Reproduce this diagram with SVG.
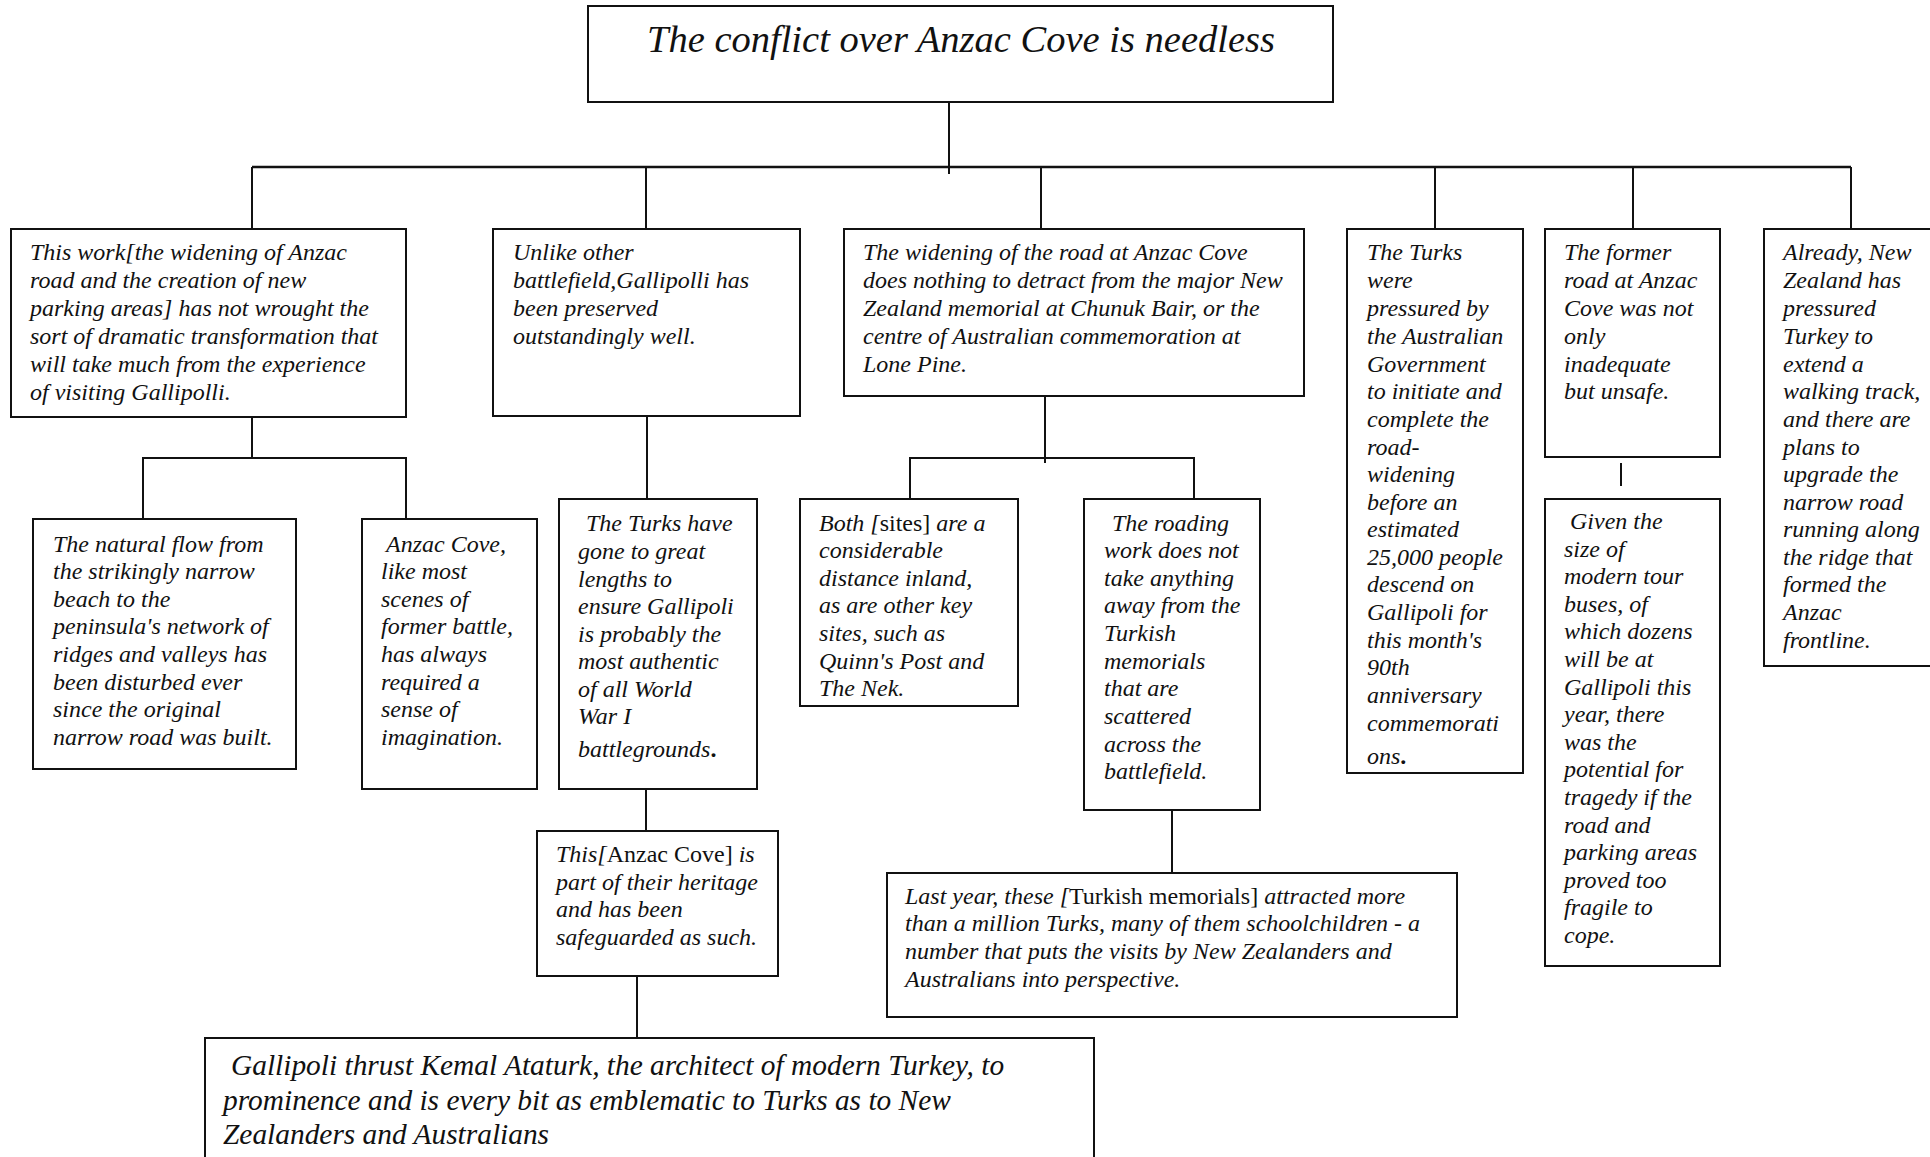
<svg xmlns="http://www.w3.org/2000/svg" width="1930" height="1157" viewBox="0 0 1930 1157">
  <style>
    .box { fill: #ffffff; stroke: #111111; stroke-width: 2; }
    .link { stroke: #111111; stroke-width: 2; fill: none; }
    .bus { stroke: #111111; stroke-width: 2.5; fill: none; }
    .t { font-family: "Liberation Serif", "Times New Roman", serif; font-style: italic; font-size: 24px; fill: #111111; }
    .title { font-size: 38.5px; }
    .big { font-size: 29.4px; }
    .u { font-style: normal; }
  </style>
  <rect width="1930" height="1157" fill="#ffffff"/>

  <!-- connectors -->
  <g id="connectors">
    <line class="link" x1="949" y1="102" x2="949" y2="174"/>
    <line class="bus" x1="252" y1="167" x2="1851" y2="167"/>
    <line class="link" x1="252" y1="167" x2="252" y2="229"/>
    <line class="link" x1="646" y1="167" x2="646" y2="229"/>
    <line class="link" x1="1041" y1="167" x2="1041" y2="229"/>
    <line class="link" x1="1435" y1="167" x2="1435" y2="229"/>
    <line class="link" x1="1633" y1="167" x2="1633" y2="229"/>
    <line class="link" x1="1851" y1="167" x2="1851" y2="229"/>
    <!-- under "This work" -->
    <polyline class="link" points="252,417 252,458"/>
    <polyline class="link" points="143,519 143,458 406,458 406,519"/>
    <!-- under "Unlike other" -->
    <line class="link" x1="647" y1="416" x2="647" y2="499"/>
    <!-- under "The widening" -->
    <line class="link" x1="1045" y1="390" x2="1045" y2="463"/>
    <polyline class="link" points="910,499 910,458 1194,458 1194,499"/>
    <!-- lower chains -->
    <line class="link" x1="646" y1="789" x2="646" y2="831"/>
    <line class="link" x1="637" y1="966" x2="637" y2="1038"/>
    <line class="link" x1="1172" y1="810" x2="1172" y2="873"/>
    <line class="link" x1="1621" y1="463" x2="1621" y2="486"/>
  </g>

  <g id="root">
    <rect class="box" x="588" y="6" width="745" height="96"/>
    <text class="t title" x="961" y="52" text-anchor="middle">The conflict over Anzac Cove is needless</text>
  </g>

  <g id="this-work">
    <rect class="box" x="11" y="229" width="395" height="188"/>
    <text class="t">
      <tspan x="30" y="260">This work[the widening of Anzac</tspan>
      <tspan x="30" y="288">road and the creation of new</tspan>
      <tspan x="30" y="316">parking areas] has not wrought the</tspan>
      <tspan x="30" y="344">sort of dramatic transformation that</tspan>
      <tspan x="30" y="372">will take much  from the experience</tspan>
      <tspan x="30" y="400">of visiting Gallipolli.</tspan>
    </text>
  </g>

  <g id="unlike-other">
    <rect class="box" x="493" y="229" width="307" height="187"/>
    <text class="t">
      <tspan x="513" y="260">Unlike other</tspan>
      <tspan x="513" y="288">battlefield,Gallipolli has</tspan>
      <tspan x="513" y="316">been preserved</tspan>
      <tspan x="513" y="344">outstandingly well.</tspan>
    </text>
  </g>

  <g id="road-widening">
    <rect class="box" x="844" y="229" width="460" height="167"/>
    <text class="t">
      <tspan x="863" y="260">The widening of the road at Anzac Cove</tspan>
      <tspan x="863" y="288">does nothing to detract from the major New</tspan>
      <tspan x="863" y="316">Zealand memorial at Chunuk Bair, or the</tspan>
      <tspan x="863" y="344">centre of Australian commemoration at</tspan>
      <tspan x="863" y="372">Lone Pine.</tspan>
    </text>
  </g>

  <g id="turks-pressured">
    <rect class="box" x="1347" y="229" width="176" height="544"/>
    <text class="t">
      <tspan x="1367" y="260">The Turks</tspan>
      <tspan x="1367" y="288">were</tspan>
      <tspan x="1367" y="316">pressured by</tspan>
      <tspan x="1367" y="344">the Australian</tspan>
      <tspan x="1367" y="372">Government</tspan>
      <tspan x="1367" y="399">to initiate and</tspan>
      <tspan x="1367" y="427">complete the</tspan>
      <tspan x="1367" y="455">road-</tspan>
      <tspan x="1367" y="482">widening</tspan>
      <tspan x="1367" y="510">before an</tspan>
      <tspan x="1367" y="537">estimated</tspan>
      <tspan x="1367" y="565">25,000 people</tspan>
      <tspan x="1367" y="592">descend on</tspan>
      <tspan x="1367" y="620">Gallipoli for</tspan>
      <tspan x="1367" y="648">this month's</tspan>
      <tspan x="1367" y="675">90th</tspan>
      <tspan x="1367" y="703">anniversary</tspan>
      <tspan x="1367" y="731">commemorati</tspan>
      <tspan x="1367" y="764">ons<tspan class="u" font-weight="bold">.</tspan></tspan>
    </text>
  </g>

  <g id="former-road">
    <rect class="box" x="1545" y="229" width="175" height="228"/>
    <text class="t">
      <tspan x="1564" y="260">The former</tspan>
      <tspan x="1564" y="288">road at Anzac</tspan>
      <tspan x="1564" y="316">Cove was not</tspan>
      <tspan x="1564" y="344">only</tspan>
      <tspan x="1564" y="372">inadequate</tspan>
      <tspan x="1564" y="399">but unsafe.</tspan>
    </text>
  </g>

  <g id="already">
    <rect class="box" x="1764" y="229" width="180" height="437"/>
    <text class="t">
      <tspan x="1783" y="260">Already, New</tspan>
      <tspan x="1783" y="288">Zealand has</tspan>
      <tspan x="1783" y="316">pressured</tspan>
      <tspan x="1783" y="344">Turkey to</tspan>
      <tspan x="1783" y="372">extend a</tspan>
      <tspan x="1783" y="399">walking track,</tspan>
      <tspan x="1783" y="427">and there are</tspan>
      <tspan x="1783" y="455">plans to</tspan>
      <tspan x="1783" y="482">upgrade the</tspan>
      <tspan x="1783" y="510">narrow road</tspan>
      <tspan x="1783" y="537">running along</tspan>
      <tspan x="1783" y="565">the ridge that</tspan>
      <tspan x="1783" y="592">formed the</tspan>
      <tspan x="1783" y="620">Anzac</tspan>
      <tspan x="1783" y="648">frontline.</tspan>
    </text>
  </g>

  <g id="natural-flow">
    <rect class="box" x="33" y="519" width="263" height="250"/>
    <text class="t">
      <tspan x="53" y="552">The natural flow from</tspan>
      <tspan x="53" y="579">the strikingly narrow</tspan>
      <tspan x="53" y="607">beach to the</tspan>
      <tspan x="53" y="634">peninsula's network of</tspan>
      <tspan x="53" y="662">ridges and valleys has</tspan>
      <tspan x="53" y="690">been disturbed ever</tspan>
      <tspan x="53" y="717">since the original</tspan>
      <tspan x="53" y="745">narrow road was built.</tspan>
    </text>
  </g>

  <g id="anzac-cove">
    <rect class="box" x="362" y="519" width="175" height="270"/>
    <text class="t">
      <tspan x="386" y="552">Anzac Cove,</tspan>
      <tspan x="381" y="579">like most</tspan>
      <tspan x="381" y="607">scenes of</tspan>
      <tspan x="381" y="634">former battle,</tspan>
      <tspan x="381" y="662">has always</tspan>
      <tspan x="381" y="690">required a</tspan>
      <tspan x="381" y="717">sense of</tspan>
      <tspan x="381" y="745">imagination.</tspan>
    </text>
  </g>

  <g id="turks-lengths">
    <rect class="box" x="559" y="499" width="198" height="290"/>
    <text class="t">
      <tspan x="586" y="531">The Turks have</tspan>
      <tspan x="578" y="559">gone to great</tspan>
      <tspan x="578" y="587">lengths to</tspan>
      <tspan x="578" y="614">ensure Gallipoli</tspan>
      <tspan x="578" y="642">is probably the</tspan>
      <tspan x="578" y="669">most authentic</tspan>
      <tspan x="578" y="697">of all World</tspan>
      <tspan x="578" y="724">War I</tspan>
      <tspan x="578" y="757">battlegrounds<tspan class="u" font-weight="bold">.</tspan></tspan>
    </text>
  </g>

  <g id="both-sites">
    <rect class="box" x="800" y="499" width="218" height="207"/>
    <text class="t">
      <tspan x="819" y="531">Both [<tspan class="u">sites]</tspan> are a</tspan>
      <tspan x="819" y="558">considerable</tspan>
      <tspan x="819" y="586">distance inland,</tspan>
      <tspan x="819" y="613">as are other key</tspan>
      <tspan x="819" y="641">sites, such as</tspan>
      <tspan x="819" y="669">Quinn's Post and</tspan>
      <tspan x="819" y="696">The Nek.</tspan>
    </text>
  </g>

  <g id="roading-work">
    <rect class="box" x="1084" y="499" width="176" height="311"/>
    <text class="t">
      <tspan x="1112" y="531">The roading</tspan>
      <tspan x="1104" y="558">work does not</tspan>
      <tspan x="1104" y="586">take anything</tspan>
      <tspan x="1104" y="613">away from the</tspan>
      <tspan x="1104" y="641">Turkish</tspan>
      <tspan x="1104" y="669">memorials</tspan>
      <tspan x="1104" y="696">that are</tspan>
      <tspan x="1104" y="724">scattered</tspan>
      <tspan x="1104" y="752">across the</tspan>
      <tspan x="1104" y="779">battlefield.</tspan>
    </text>
  </g>

  <g id="tour-buses">
    <rect class="box" x="1545" y="499" width="175" height="467"/>
    <text class="t">
      <tspan x="1570" y="529">Given the</tspan>
      <tspan x="1564" y="557">size of</tspan>
      <tspan x="1564" y="584">modern tour</tspan>
      <tspan x="1564" y="612">buses, of</tspan>
      <tspan x="1564" y="639">which dozens</tspan>
      <tspan x="1564" y="667">will be at</tspan>
      <tspan x="1564" y="695">Gallipoli this</tspan>
      <tspan x="1564" y="722">year, there</tspan>
      <tspan x="1564" y="750">was the</tspan>
      <tspan x="1564" y="777">potential for</tspan>
      <tspan x="1564" y="805">tragedy if the</tspan>
      <tspan x="1564" y="833">road and</tspan>
      <tspan x="1564" y="860">parking areas</tspan>
      <tspan x="1564" y="888">proved too</tspan>
      <tspan x="1564" y="915">fragile to</tspan>
      <tspan x="1564" y="943">cope.</tspan>
    </text>
  </g>

  <g id="heritage">
    <rect class="box" x="537" y="831" width="241" height="145"/>
    <text class="t">
      <tspan x="556" y="862">This[<tspan class="u">Anzac Cove]</tspan> is</tspan>
      <tspan x="556" y="890">part of their heritage</tspan>
      <tspan x="556" y="917">and has been</tspan>
      <tspan x="556" y="945">safeguarded as such.</tspan>
    </text>
  </g>

  <g id="last-year">
    <rect class="box" x="887" y="873" width="570" height="144"/>
    <text class="t">
      <tspan x="905" y="904">Last year, these [<tspan class="u">Turkish memorials]</tspan> attracted more</tspan>
      <tspan x="905" y="931">than a million Turks, many of them schoolchildren - a</tspan>
      <tspan x="905" y="959">number that puts the visits by New Zealanders and</tspan>
      <tspan x="905" y="987">Australians into perspective.</tspan>
    </text>
  </g>

  <g id="ataturk">
    <rect class="box" x="205" y="1038" width="889" height="140"/>
    <text class="t big">
      <tspan x="231" y="1075">Gallipoli thrust Kemal Ataturk, the architect of modern Turkey, to</tspan>
      <tspan x="223" y="1110">prominence and is every bit as emblematic to Turks as to New</tspan>
      <tspan x="223" y="1144">Zealanders and Australians</tspan>
    </text>
  </g>
</svg>
